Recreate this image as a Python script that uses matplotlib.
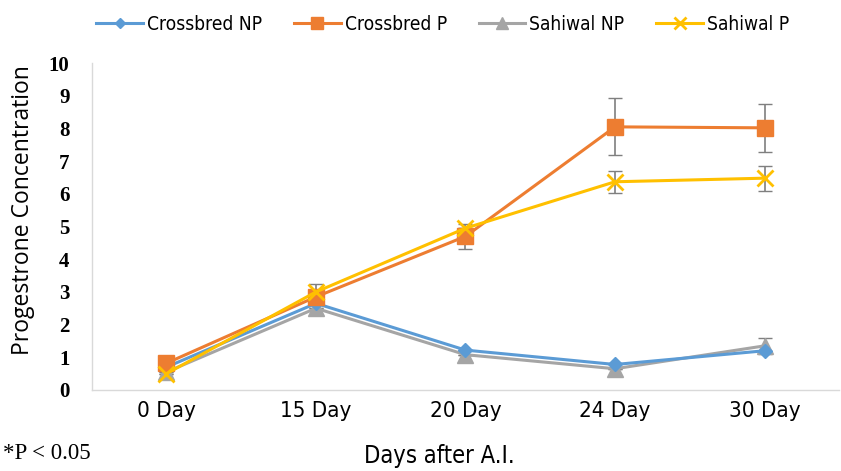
import matplotlib
matplotlib.use("Agg")
import matplotlib.pyplot as plt
from matplotlib import font_manager
from matplotlib.font_manager import FontProperties

categories = ["0 Day", "15 Day", "20 Day", "24 Day", "30 Day"]
crossbred_np = [0.70, 2.65, 1.22, 0.78, 1.20]
crossbred_p = [0.82, 2.85, 4.70, 8.05, 8.02]
sahiwal_np = [0.55, 2.50, 1.08, 0.65, 1.35]
sahiwal_p = [0.50, 3.00, 4.95, 6.37, 6.48]
err_crossbred_p = [0, 0.40, 0.38, 0.87, 0.73]
err_sahiwal_p = [0, 0, 0, 0.33, 0.38]
err_sahiwal_np = [0, 0, 0, 0, 0.25]
yticks = list(range(0, 11))

names = {f.name for f in font_manager.fontManager.ttflist}
if "Liberation Sans Narrow" in names:
    def cfp(size):
        return FontProperties(family="Liberation Sans Narrow", size=size)
else:
    def cfp(size):
        return FontProperties(family="DejaVu Sans", stretch="condensed", size=size)

fig = plt.figure(figsize=(8.41, 4.71), dpi=100)
ax = fig.add_axes([0.109, 0.172, 0.889, 0.694])
x = list(range(len(categories)))

ecol = "#7f7f7f"
ax.errorbar(x, crossbred_p, yerr=err_crossbred_p, fmt="none", ecolor=ecol, elinewidth=1.2, capsize=5, zorder=1)
ax.errorbar(x, sahiwal_p, yerr=err_sahiwal_p, fmt="none", ecolor=ecol, elinewidth=1.2, capsize=5, zorder=1)
ax.errorbar(x, sahiwal_np, yerr=err_sahiwal_np, fmt="none", ecolor=ecol, elinewidth=1.2, capsize=5, zorder=1)

ax.plot(x, crossbred_np, color="#5b9bd5", marker="D", markersize=7, lw=2.2, label="Crossbred NP", zorder=3)
ax.plot(x, crossbred_p, color="#ed7d31", marker="s", markersize=11, lw=2.2, label="Crossbred P", zorder=3)
ax.plot(x, sahiwal_np, color="#a5a5a5", marker="^", markersize=11, lw=2.2, label="Sahiwal NP", zorder=2)
ax.plot(x, sahiwal_p, color="#ffc000", marker="x", markersize=11, mew=2, lw=2.2, label="Sahiwal P", zorder=4)

ax.set_xlim(-0.5, 4.5)
ax.set_ylim(0, 10)
ax.set_yticks(yticks)
ax.set_yticklabels([str(t) for t in yticks], fontfamily="Liberation Serif", fontweight="bold", fontsize=15)
ax.set_xticks(x)
ax.set_xticklabels(categories)
for lab in ax.get_xticklabels():
    lab.set_fontproperties(cfp(16))
ax.tick_params(axis="both", length=0)
ax.tick_params(axis="y", pad=16)
ax.tick_params(axis="x", pad=8)
for s in ["top", "right"]:
    ax.spines[s].set_visible(False)
for s in ["left", "bottom"]:
    ax.spines[s].set_color("#d9d9d9")
    ax.spines[s].set_linewidth(1.0)

ax.set_ylabel("Progestrone Concentration", fontfamily="Open Sans", fontsize=16.5)
ax.yaxis.set_label_coords(-0.076, 0.55)
ax.set_xlabel("Days after A.I.", fontproperties=cfp(17))
ax.xaxis.set_label_coords(0.465, -0.165)

fig.text(0.004, 0.015, "*P < 0.05", fontfamily="Liberation Serif", fontsize=16.5, ha="left", va="bottom")

leg = fig.legend(loc="upper left", bbox_to_anchor=(0.094, 1.005), ncol=4, frameon=False,
                 prop=cfp(13.8), handlelength=2.45, columnspacing=1.65, handletextpad=0.2,
                 markerscale=0.8)

fig.savefig("out.png", dpi=100)
